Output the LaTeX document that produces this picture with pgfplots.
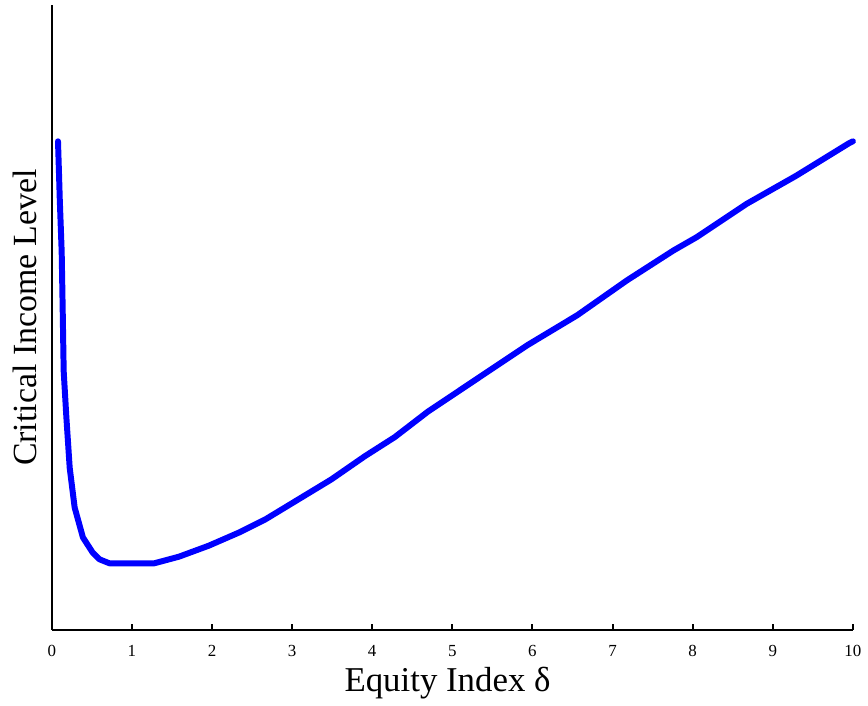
\documentclass[border=0pt]{standalone}
\usepackage{fontspec}
\setmainfont{Liberation Serif}
\usepackage{pgfplots}
\pgfplotsset{compat=1.18}
\definecolor{curveblue}{RGB}{0,0,255}
\begin{document}
\begin{tikzpicture}
\begin{axis}[
    scale only axis,
    width=402.5pt, height=314pt,
    xmin=0, xmax=10, ymin=0, ymax=628,
    axis x line*=bottom, axis y line*=left,
    axis line style={-, line width=1.2pt},
    xtick={0,1,...,10}, ytick=\empty,
    tick align=inside, major tick length=3pt,
    tick style={black, line width=1pt},
    ticklabel style={font=\fontsize{8.5}{9}\selectfont},
    xticklabel style={yshift=-4pt},
    /pgf/number format/assume math mode=true,
    xlabel={Equity Index δ},
    ylabel={Critical Income Level},
    xlabel style={at={(axis description cs:0.494,-0.085)}, anchor=center, font=\fontsize{17.5}{19}\selectfont},
    ylabel style={at={(axis description cs:-0.0335,0.5)}, anchor=center, font=\fontsize{17}{19}\selectfont},
    clip=false,
]
\addplot[curveblue, line width=3pt, line join=round, line cap=round] coordinates {
    (0.078,491) (0.09,460) (0.10,433) (0.124,380) (0.137,320) (0.149,260)
    (0.183,213) (0.224,163) (0.286,123) (0.389,93) (0.509,78) (0.596,71)
    (0.72,67) (1.28,67) (1.59,73.7) (1.96,84.7) (2.34,98) (2.67,111.3)
    (3.08,131.3) (3.49,151.3) (3.91,174.7) (4.28,193.7) (4.70,219.7)
    (5.32,253) (5.94,286.3) (6.56,316.3) (7.18,351.3) (7.76,381.3)
    (8.05,394.7) (8.67,428) (9.29,456.3) (9.95,489) (10.0,491)
};
\end{axis}
\path (current axis.south west) ++(-26pt,-35pt);
\path (current axis.north east) ++(5.5pt,2.5pt);
\end{tikzpicture}
\end{document}
